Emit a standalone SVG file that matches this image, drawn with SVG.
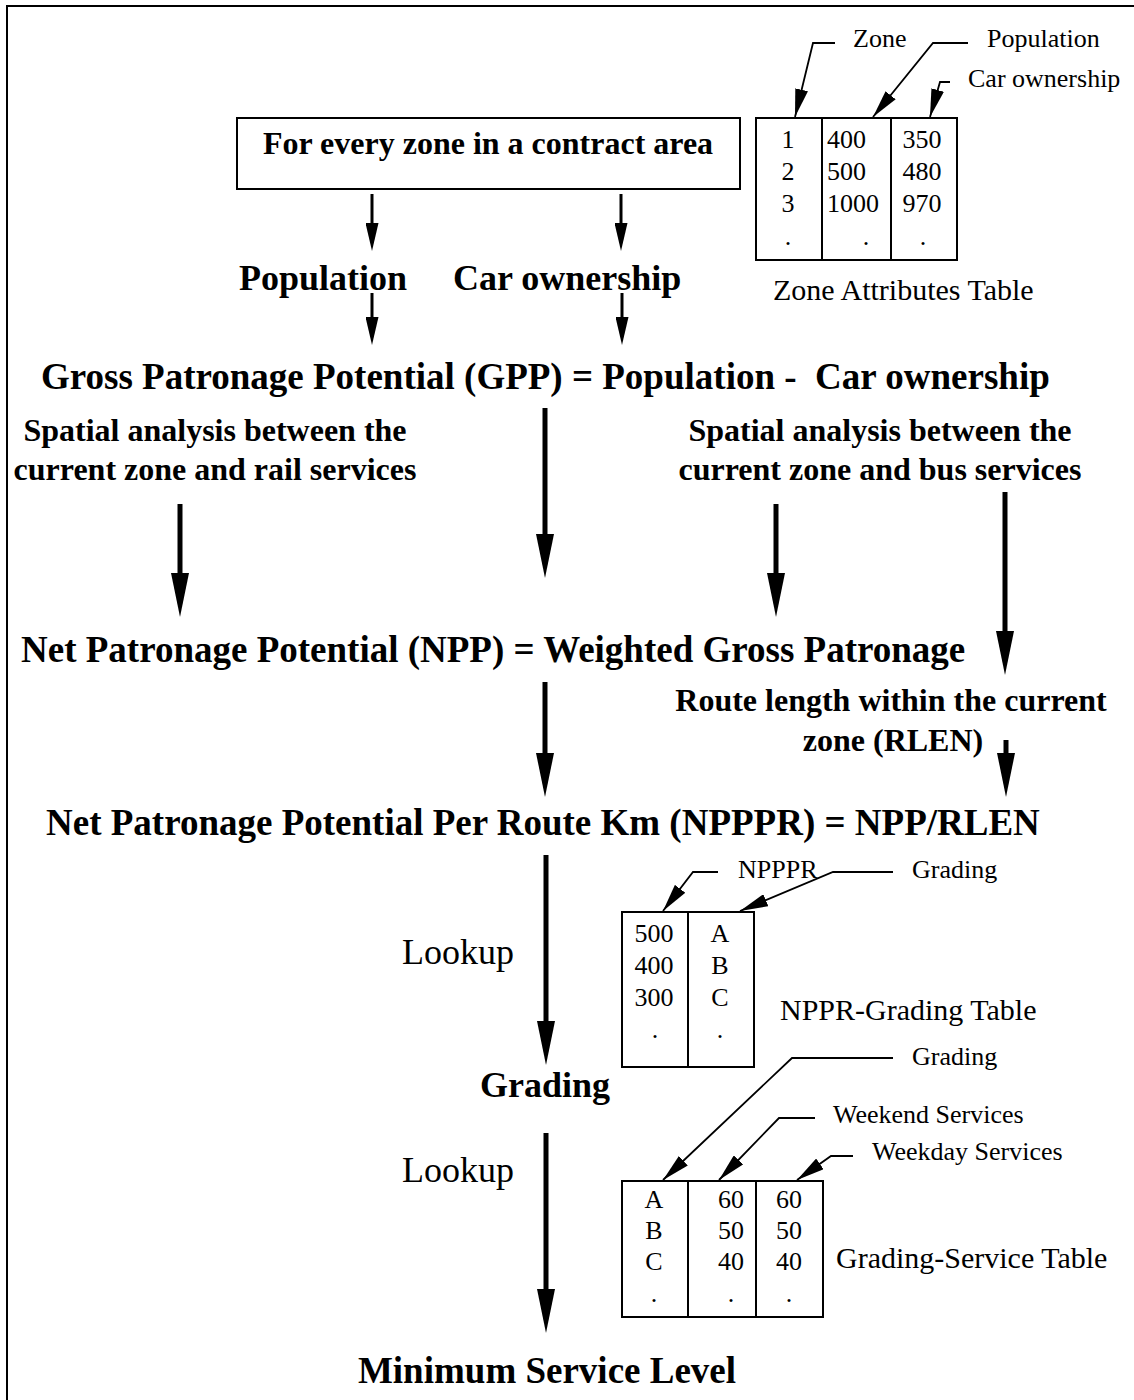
<svg xmlns="http://www.w3.org/2000/svg" width="1134" height="1400" viewBox="0 0 1134 1400">
  <defs>
    <style>
      text { font-family: "Liberation Serif", "Times New Roman", serif; fill: #000; }
      .b { font-weight: bold; }
      .h1 { font-size: 37px; }
      .h2 { font-size: 36px; }
      .h3 { font-size: 32px; }
      .lbl { font-size: 26px; }
      .cell { font-size: 26px; }
      .ttl { font-size: 30px; }
      .mid { text-anchor: middle; }
      .frame { fill: none; stroke: #000; stroke-width: 2; }
      .tbl { fill: none; stroke: #000; stroke-width: 2; }
      .thin { stroke: #000; stroke-width: 3; fill: none; }
      .thick { stroke: #000; stroke-width: 5; fill: none; }
      .lead { stroke: #000; stroke-width: 1.8; fill: none; }
    </style>
    <marker id="headThin" viewBox="0 0 28 13" refX="0" refY="6.5" markerWidth="28" markerHeight="13" markerUnits="userSpaceOnUse" orient="auto">
      <path d="M0,0 L28,6.5 L0,13 z" fill="#000"/>
    </marker>
    <marker id="headThick" viewBox="0 0 44 18" refX="0" refY="9" markerWidth="44" markerHeight="18" markerUnits="userSpaceOnUse" orient="auto">
      <path d="M0,0 L44,9 L0,18 z" fill="#000"/>
    </marker>
    <marker id="headLead" viewBox="0 0 28 13" refX="28" refY="6.5" markerWidth="28" markerHeight="13" markerUnits="userSpaceOnUse" orient="auto">
      <path d="M0,0 L28,6.5 L0,13 z" fill="#000"/>
    </marker>
  </defs>

  <rect id="page-frame" class="frame" x="7" y="6" width="1150" height="1420"/>

  <!-- flow connectors -->
  <g id="connectors">
    <line class="thin" x1="372" y1="194" x2="372" y2="223" marker-end="url(#headThin)"/>
    <line class="thin" x1="621" y1="194" x2="621" y2="223" marker-end="url(#headThin)"/>
    <line class="thin" x1="372" y1="293" x2="372" y2="317" marker-end="url(#headThin)"/>
    <line class="thin" x1="622" y1="293" x2="622" y2="317" marker-end="url(#headThin)"/>

    <line class="thick" x1="180" y1="504" x2="180" y2="573" marker-end="url(#headThick)"/>
    <line class="thick" x1="545" y1="408" x2="545" y2="534" marker-end="url(#headThick)"/>
    <line class="thick" x1="776" y1="504" x2="776" y2="573" marker-end="url(#headThick)"/>
    <line class="thick" x1="1005" y1="492" x2="1005" y2="631" marker-end="url(#headThick)"/>

    <line class="thick" x1="545" y1="682" x2="545" y2="753" marker-end="url(#headThick)"/>
    <line class="thick" x1="1006" y1="740" x2="1006" y2="753" marker-end="url(#headThick)"/>

    <line class="thick" x1="546" y1="855" x2="546" y2="1021" marker-end="url(#headThick)"/>
    <line class="thick" x1="546" y1="1133" x2="546" y2="1289" marker-end="url(#headThick)"/>
  </g>

  <!-- start node -->
  <g id="node-start">
    <rect class="tbl" x="237" y="118" width="503" height="71"/>
    <text class="b h3 mid" x="488" y="154">For every zone in a contract area</text>
  </g>

  <g id="node-population">
    <text class="b h2" x="239" y="290">Population</text>
  </g>
  <g id="node-car">
    <text class="b h2" x="453" y="290">Car ownership</text>
  </g>

  <g id="node-gpp">
    <text class="b h1" x="41" y="389">Gross Patronage Potential (GPP) = Population -&#160; Car ownership</text>
  </g>

  <g id="node-rail">
    <text class="b h3 mid" x="215" y="441">Spatial analysis between the</text>
    <text class="b h3 mid" x="215" y="480">current zone and rail services</text>
  </g>

  <g id="node-bus">
    <text class="b h3 mid" x="880" y="441">Spatial analysis between the</text>
    <text class="b h3 mid" x="880" y="480">current zone and bus services</text>
  </g>

  <g id="node-npp">
    <text class="b h1" x="21" y="662">Net Patronage Potential (NPP) = Weighted Gross Patronage</text>
  </g>

  <g id="node-rlen">
    <text class="b h3 mid" x="891" y="711">Route length within the current</text>
    <text class="b h3 mid" x="893" y="751">zone (RLEN)</text>
  </g>

  <g id="node-npppr">
    <text class="b h1" x="46" y="835">Net Patronage Potential Per Route Km (NPPPR) = NPP/RLEN</text>
  </g>

  <g id="node-grading">
    <text class="b h2 mid" x="545" y="1097">Grading</text>
  </g>

  <g id="node-min">
    <text class="b h1 mid" x="547" y="1383">Minimum Service Level</text>
  </g>

  <g id="lookup-labels">
    <text class="h2" x="402" y="964">Lookup</text>
    <text class="h2" x="402" y="1182">Lookup</text>
  </g>

  <!-- zone attributes table -->
  <g id="zone-table">
    <rect class="tbl" x="756" y="118" width="66" height="142"/>
    <rect class="tbl" x="822" y="118" width="69" height="142"/>
    <rect class="tbl" x="891" y="118" width="66" height="142"/>
    <text class="cell mid" x="788" y="148">1</text>
    <text class="cell mid" x="788" y="180">2</text>
    <text class="cell mid" x="788" y="212">3</text>
    <text class="cell mid" x="788" y="245">.</text>
    <text class="cell" x="827" y="148">400</text>
    <text class="cell" x="827" y="180">500</text>
    <text class="cell" x="827" y="212">1000</text>
    <text class="cell mid" x="866" y="245">.</text>
    <text class="cell mid" x="922" y="148">350</text>
    <text class="cell mid" x="922" y="180">480</text>
    <text class="cell mid" x="922" y="212">970</text>
    <text class="cell mid" x="923" y="245">.</text>
    <text class="lbl" x="853" y="47">Zone</text>
    <text class="lbl" x="987" y="47">Population</text>
    <text class="lbl" x="968" y="87">Car ownership</text>
    <polyline class="lead" points="835,43 813,43 795,117" marker-end="url(#headLead)"/>
    <polyline class="lead" points="968,43 933,43 873,117" marker-end="url(#headLead)"/>
    <polyline class="lead" points="950,82 940,82 930,117" marker-end="url(#headLead)"/>
    <text class="ttl" x="773" y="300">Zone Attributes Table</text>
  </g>

  <!-- NPPR grading table -->
  <g id="nppr-table">
    <rect class="tbl" x="622" y="912" width="66" height="155"/>
    <rect class="tbl" x="688" y="912" width="66" height="155"/>
    <text class="cell mid" x="654" y="942">500</text>
    <text class="cell mid" x="654" y="974">400</text>
    <text class="cell mid" x="654" y="1006">300</text>
    <text class="cell mid" x="655" y="1038">.</text>
    <text class="cell mid" x="720" y="942">A</text>
    <text class="cell mid" x="720" y="974">B</text>
    <text class="cell mid" x="720" y="1006">C</text>
    <text class="cell mid" x="720" y="1038">.</text>
    <text class="lbl" x="738" y="878">NPPPR</text>
    <text class="lbl" x="912" y="878">Grading</text>
    <polyline class="lead" points="718,872 693,872 663,911" marker-end="url(#headLead)"/>
    <polyline class="lead" points="893,872 833,872 740,911" marker-end="url(#headLead)"/>
    <text class="ttl" x="780" y="1020">NPPR-Grading Table</text>
  </g>

  <!-- grading service table -->
  <g id="service-table">
    <rect class="tbl" x="622" y="1181" width="66" height="136"/>
    <rect class="tbl" x="688" y="1181" width="68" height="136"/>
    <rect class="tbl" x="756" y="1181" width="67" height="136"/>
    <text class="cell mid" x="654" y="1208">A</text>
    <text class="cell mid" x="654" y="1239">B</text>
    <text class="cell mid" x="654" y="1270">C</text>
    <text class="cell mid" x="654" y="1302">.</text>
    <text class="cell mid" x="731" y="1208">60</text>
    <text class="cell mid" x="731" y="1239">50</text>
    <text class="cell mid" x="731" y="1270">40</text>
    <text class="cell mid" x="731" y="1302">.</text>
    <text class="cell mid" x="789" y="1208">60</text>
    <text class="cell mid" x="789" y="1239">50</text>
    <text class="cell mid" x="789" y="1270">40</text>
    <text class="cell mid" x="789" y="1302">.</text>
    <text class="lbl" x="912" y="1065">Grading</text>
    <text class="lbl" x="833" y="1123">Weekend Services</text>
    <text class="lbl" x="872" y="1160">Weekday Services</text>
    <polyline class="lead" points="893,1058 792,1058 663,1180" marker-end="url(#headLead)"/>
    <polyline class="lead" points="815,1118 779,1118 719,1180" marker-end="url(#headLead)"/>
    <polyline class="lead" points="853,1156 831,1156 797,1180" marker-end="url(#headLead)"/>
    <text class="ttl" x="836" y="1268">Grading-Service Table</text>
  </g>
</svg>
